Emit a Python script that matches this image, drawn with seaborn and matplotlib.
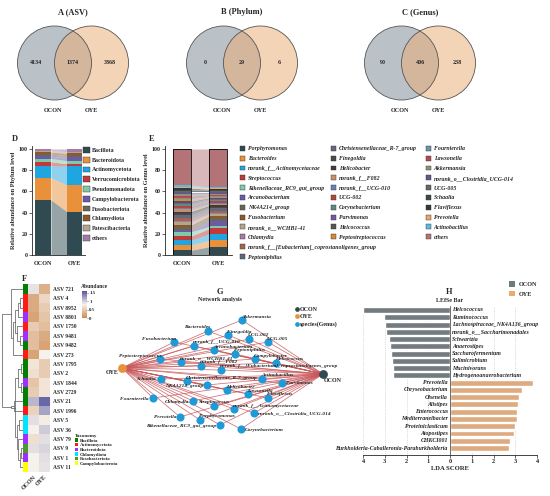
import numpy as np
import pandas as pd
import matplotlib
matplotlib.use("Agg")
import matplotlib.pyplot as plt
from matplotlib.patches import Circle, Patch
from matplotlib.lines import Line2D
from matplotlib.colors import LinearSegmentedColormap, ListedColormap
import seaborn as sns

# ---------------- data ----------------
groups = ["OCON", "OYE"]

# Venn (A, B, C)
venn_titles = ["A (ASV)", "B (Phylum)", "C (Genus)"]
venn_only_ocon = [4134, 0, 90]
venn_shared = [1374, 29, 406]
venn_only_oye = [3868, 6, 238]

# D: phylum composition (%)
phyla = ["Bacillota", "Bacteroidota", "Actinomycetota", "Verrucomicrobiota",
         "Pseudomonadota", "Campylobacterota", "Fusobacteriota", "Chlamydiota",
         "Patescibacteria", "others"]
phylum_ocon = [52, 21, 11, 4, 3, 2, 2, 2, 1.5, 1.5]
phylum_oye = [41, 25, 18, 2, 3, 3, 2, 2, 1.5, 2.5]
phylum_colors = ["#2F4A50", "#E8903A", "#1FA6E0", "#C0393B", "#7FC9A4",
                 "#6A5AA8", "#6B6654", "#8B5A2B", "#B4A48E", "#A57BA8"]

# E: genus composition (%)
genera = ["Porphyromonas", "Bacteroides", "norank_f__Actinomycetaceae", "Streptococcus",
          "Rikenellaceae_RC9_gut_group", "Arcanobacterium", "NK4A214_group", "Fusobacterium",
          "norank_o__WCHB1-41", "Chlamydia", "norank_f__[Eubacterium]_coprostanoligenes_group",
          "Peptoniphilus",
          "Christensenellaceae_R-7_group", "Finegoldia", "Helicobacter", "norank_f__F082",
          "norank_f__UCG-010", "UCG-002", "Corynebacterium", "Parvimonas", "Helcococcus",
          "Peptostreptococcus",
          "Fournierella", "Lawsonella", "Akkermansia", "norank_o__Clostridia_UCG-014",
          "UCG-005", "Schaalia", "Flaviflexus", "Prevotella", "Actinobacillus", "others"]
genus_ocon = [4.5, 5, 4.5, 4, 4, 1.5, 3, 2, 2.5, 1.5, 2, 1.5,
              2, 1.5, 1.5, 2, 1.5, 1.5, 2, 1.5, 1.5, 1.5,
              1.5, 1.5, 2, 1.5, 1, 1.5, 1.5, 1.5, 1.5, 34]
genus_oye = [8, 6, 6, 5, 2, 5, 3, 2, 1.5, 1, 2, 1.5,
             1.5, 1, 1.5, 1, 1.5, 1, 1.5, 1, 1, 1,
             1, 1, 1, 1, 1, 1, 1, 1, 1, 36]
genus_colors = ["#2F4A50", "#E8903A", "#1FA6E0", "#C0393B", "#7FC9A4", "#6A5AA8",
                "#6B6654", "#8B5A2B", "#B4A48E", "#A57BA8", "#A0684A", "#5B6B78",
                "#6D6483", "#4A4A4A", "#3D3D3D", "#C89064", "#6D7FB8", "#B5453E",
                "#5E8A85", "#6E5C9E", "#555555", "#D4883E",
                "#6F93AC", "#B24B52", "#8C9478", "#5F5A8A", "#6B6468", "#3C4A4A",
                "#2F3A3A", "#E6A66B", "#5DB8E0", "#B37377"]
legend_cols = [12, 10, 10]

# F: heatmap of ASVs
asv_ids = ["ASV 721", "ASV 4", "ASV 8952", "ASV 8801", "ASV 1750", "ASV 9481", "ASV 9482",
           "ASV 273", "ASV 1795", "ASV 2", "ASV 1844", "ASV 2729", "ASV 21", "ASV 1996",
           "ASV 5", "ASV 36", "ASV 79", "ASV 9", "ASV 1", "ASV 11"]
abund_ocon = [0.88, 0.25, 0.25, 0.2, 0.5, 0.4, 0.4, 0.2, 0.7, 0.65,
              0.45, 0.5, 1.1, 0.55, 0.9, 0.8, 0.65, 0.9, 0.8, 0.8]
abund_oye = [0.3, 0.6, 0.5, 0.45, 0.4, 0.25, 0.2, 0.8, 0.5, 0.5,
             0.7, 0.7, 1.5, 1.2, 0.75, 1.0, 0.9, 0.95, 0.9, 0.88]
asv_phylum = ["Bacillota", "Actinomycetota", "Actinomycetota", "Bacteroidota", "Actinomycetota",
              "Bacteroidota", "Bacillota", "Actinomycetota", "Bacillota", "Bacillota",
              "Bacteroidota", "Bacillota", "Bacillota", "Actinomycetota", "Chlamydiota",
              "Chlamydiota", "Bacteroidota", "Fusobacteriota", "Bacteroidota", "Campylobacterota"]
taxa = ["Bacillota", "Actinomycetota", "Bacteroidota", "Chlamydiota", "Fusobacteriota",
        "Campylobacterota"]
taxa_colors = ["#007F00", "#FF1A1A", "#9B30FF", "#00E5FF", "#4C9A2A", "#FFFF00"]
# row clustering: (left, right, height), new cluster ids start at len(asv_ids)
merges = [(1, 2, 0.15), (20, 3, 0.25), (5, 6, 0.15), (4, 22, 0.3), (21, 23, 0.4),
          (24, 7, 0.5), (0, 25, 0.6), (8, 9, 0.1), (10, 11, 0.12), (27, 28, 0.25),
          (14, 15, 0.2), (17, 18, 0.1), (31, 19, 0.15), (16, 32, 0.22), (30, 33, 0.3),
          (29, 34, 0.4), (12, 13, 0.45), (35, 36, 0.6), (26, 37, 1.0)]

# G: network (genus nodes, each linked to OYE and OCON)
net_nodes = ["Akkermansia", "Bacteroides", "Finegoldia", "UCG-002", "UCG-005", "Fusobacterium",
             "norank_f__UCG-010", "Arcanobacterium", "Peptoniphilus", "Campylobacter",
             "Helcococcus", "Peptostreptococcus", "norank_o__WCHB1-41", "norank_f__F082",
             "norank_f__[Eubacterium]_coprostanoligenes_group", "Schaalia",
             "Christensenellaceae_R-7_group", "Actinobacillus", "NK4A214_group", "Helicobacter",
             "Lawsonella", "Parvimonas", "Fournierella", "Chlamydia", "Streptococcus",
             "Flaviflexus", "norank_f__Actinomycetaceae", "norank_o__Clostridia_UCG-014",
             "Prevotella", "Porphyromonas", "Rikenellaceae_RC9_gut_group", "Corynebacterium"]
# layout of the network drawing
node_x = [242, 208, 228, 249, 268, 174, 194, 214, 235, 255, 276, 160, 181, 201, 221, 161,
          187, 262, 207, 227, 248, 282, 153, 193, 214, 268, 234, 254, 180, 200, 220, 241]
node_y = [320, 331, 335, 339, 342, 342, 346, 350, 354, 359, 363, 359, 362, 366, 370, 379,
          381, 379, 385, 390, 394, 383, 398, 401, 406, 398, 409, 413, 417, 420, 425, 429]
label_side = ["r", "l", "r", "r", "r", "l", "r", "r", "r", "r", "r", "l", "r", "r", "r", "L",
              "r", "r", "L", "r", "r", "R", "L", "L", "c", "r", "r", "R", "L", "r", "L", "R"]
hub_xy = {"OYE": (122, 368), "OCON": (323, 374)}

# H: LEfSe
lefse_genus = ["Helcococcus", "Ruminococcus", "Lachnospiraceae_NK4A136_group",
               "norank_o__Saccharimonadales", "Schwartzia", "Anaerostipes", "Saccharofermentum",
               "Salimicrobium", "Mucinivorans", "Hydrogenoanaerobacterium", "Prevotella",
               "Chryseobacterium", "Olsenella", "Alistipes", "Enterococcus", "Mediterraneibacter",
               "Proteiniclasticum", "Atopostipes", "CHKCI001",
               "Burkholderia-Caballeronia-Paraburkholderia"]
lda_score = [4.0, 3.03, 2.98, 2.96, 2.8, 2.75, 2.72, 2.68, 2.64, 2.6,
             3.82, 3.31, 3.16, 3.13, 3.1, 3.07, 2.99, 2.96, 2.76, 2.73]
lefse_group = ["OCON"] * 10 + ["OYE"] * 10

# ---------------- style ----------------
sns.set_style("white")
plt.rcParams["font.family"] = ["Liberation Serif", "DejaVu Serif"]
plt.rcParams["font.weight"] = "bold"
plt.rcParams["axes.labelweight"] = "bold"
plt.rcParams["axes.linewidth"] = 0.6

W, H = 550, 496
fig = plt.figure(figsize=(W / 100, H / 100), dpi=100)


def px_axes(x0, y0, x1, y1):
    return fig.add_axes([x0 / W, 1 - y1 / H, (x1 - x0) / W, (y1 - y0) / H])


def fx(x):
    return x / W


def fy(y):
    return 1 - y / H


# ---------------- A, B, C: Venn ----------------
R = 37.0
for cx, title, a, ab, b in zip([73, 242, 420], venn_titles, venn_only_ocon, venn_shared, venn_only_oye):
    ax = px_axes(cx - 62, 2, cx + 62, 122)
    ax.set_xlim(-62 / R, 62 / R)
    ax.set_ylim(-(122 - 63) / R, (63 - 2) / R)
    ax.add_patch(Circle((-0.5, 0), 1, fc="#798791", alpha=0.5, ec="none"))
    ax.add_patch(Circle((0.5, 0), 1, fc="#EBAB71", alpha=0.5, ec="none"))
    for c in (-0.5, 0.5):
        ax.add_patch(Circle((c, 0), 1, fill=False, ec="#555555", lw=0.6))
    ax.text(0, (63 - 12) / R, title, ha="center", va="center", fontsize=6)
    for x, v in zip([-1.0, 0, 1.0], [a, ab, b]):
        ax.text(x, 0, str(v), ha="center", va="center", fontsize=4.3)
    for x, g in zip([-0.55, 0.5], groups):
        ax.text(x, (63 - 110) / R, g, ha="center", va="center", fontsize=4.5)
    ax.axis("off")


# ---------------- D & E: stacked composition ----------------
def stacked(ax, v0, v1, colors, outline):
    b0, b1 = 0.0, 0.0
    for a, b, c in zip(v0, v1, colors):
        ax.bar([0, 1], [a, b], bottom=[b0, b1], width=0.5, color=c, lw=0)
        ax.fill_between([0.25, 0.75], [b0, b1], [b0 + a, b1 + b], color=c, alpha=0.5, lw=0)
        b0 += a
        b1 += b
    if outline:
        ax.bar([0, 1], [b0, b1], width=0.5, fill=False, edgecolor="black", lw=0.6)


def comp_axes(ax, ylabel):
    ax.set_ylim(0, 102.8)
    ax.set_yticks(range(0, 101, 20))
    ax.set_xticks([0, 1])
    ax.set_xticklabels(groups, fontsize=4.5)
    ax.tick_params(axis="y", labelsize=4.3, length=2, width=0.5, pad=1, left=True)
    ax.tick_params(axis="x", length=0, pad=4)
    ax.set_ylabel(ylabel, fontsize=4.5, labelpad=2)
    sns.despine(ax=ax)


axd = px_axes(32, 146, 85, 255)
stacked(axd, phylum_ocon, phylum_oye, phylum_colors, False)
axd.set_xlim(-0.35, 1.33)
comp_axes(axd, "Relative abundance on Phylum level")
fig.text(fx(12), fy(139), "D", fontsize=6, ha="left", va="center")
fig.legend([Patch(fc=c, ec="#333333", lw=0.3) for c in phylum_colors], phyla,
           loc="upper left", bbox_to_anchor=(fx(83), fy(147)), frameon=False, fontsize=4.3,
           handlelength=1.1, handleheight=1.1, labelspacing=0.65, handletextpad=0.4,
           borderaxespad=0, borderpad=0)

axe = px_axes(165, 146, 232, 255)
stacked(axe, genus_ocon, genus_oye, genus_colors, True)
axe.set_xlim(-0.486, 1.375)
comp_axes(axe, "Relative abundance on Genus level")
fig.text(fx(149), fy(139), "E", fontsize=6, ha="left", va="center")
start = 0
for col_x, n in zip([240, 331, 426], legend_cols):
    idx = range(start, start + n)
    leg = fig.legend([Patch(fc=genus_colors[i], ec="#333333", lw=0.3) for i in idx],
                     [genera[i] for i in idx], loc="upper left",
                     bbox_to_anchor=(fx(col_x), fy(146)), frameon=False,
                     prop={"style": "italic", "weight": "bold", "size": 4.2},
                     handlelength=0.9, handleheight=0.9, labelspacing=0.75,
                     handletextpad=0.4, borderaxespad=0, borderpad=0)
    start += n

# ---------------- F: heatmap ----------------
top, bot = 284.3, 471.7
axf = px_axes(28, top, 50, bot)
caxf = px_axes(82, 291, 87, 318)
heat = pd.DataFrame({"OCON": abund_ocon, "OYE": abund_oye}, index=asv_ids)
cmap = LinearSegmentedColormap.from_list("ab", ["#CD8A4F", "#F7F2EC", "#55559E"])
sns.heatmap(heat, ax=axf, cmap=cmap, vmin=0, vmax=1.6, cbar_ax=caxf, linewidths=0,
            xticklabels=True, yticklabels=True)
axf.yaxis.tick_right()
axf.set_yticks(np.arange(len(asv_ids)) + 0.5)
axf.set_yticklabels(asv_ids, rotation=0, fontsize=4.0)
axf.set_xticks([0.5, 1.5])
axf.set_xticklabels(groups, rotation=45, ha="right", rotation_mode="anchor", fontsize=4.3)
axf.tick_params(length=0, pad=2)
caxf.set_yticks([0, 0.5, 1, 1.5])
caxf.set_yticklabels(["0", "0.5", "1", "1.5"])
caxf.tick_params(labelsize=3.5, length=1, width=0.4, pad=0.5)
fig.text(fx(81), fy(289), "Abundance", fontsize=4.0, ha="left", va="bottom")
fig.text(fx(22), fy(279), "F", fontsize=6, ha="left", va="center")

axt = px_axes(23, top, 28, bot)
codes = np.array([taxa.index(p) for p in asv_phylum]).reshape(-1, 1)
sns.heatmap(codes, ax=axt, cmap=ListedColormap(taxa_colors), vmin=-0.5, vmax=5.5,
            cbar=False, xticklabels=False, yticklabels=False)

axdg = px_axes(2, top, 23, bot)
n = len(asv_ids)
pos = {i: i + 0.5 for i in range(n)}
hgt = {i: 0.0 for i in range(n)}
for k, (a, b, h) in enumerate(merges):
    axdg.plot([hgt[a], h, h, hgt[b]], [pos[a], pos[a], pos[b], pos[b]],
              color="#555555", lw=0.5)
    pos[n + k] = (pos[a] + pos[b]) / 2
    hgt[n + k] = h
axdg.set_xlim(1.02, 0)
axdg.set_ylim(n, 0)
axdg.axis("off")

tax_leg = fig.legend([Patch(fc=c, lw=0) for c in taxa_colors], taxa, title="Taxonomy",
                     loc="upper left", bbox_to_anchor=(fx(75), fy(434)), frameon=False,
                     fontsize=3.5, title_fontsize=3.6, handlelength=0.7, handleheight=0.7,
                     labelspacing=0.05, handletextpad=0.3, borderaxespad=0, borderpad=0)
tax_leg._legend_box.align = "left"

# ---------------- G: network ----------------
axg = px_axes(95, 280, 345, 440)
axg.set_xlim(95, 345)
axg.set_ylim(440, 280)
axg.axis("off")
for x, y in zip(node_x, node_y):
    for hx, hy in hub_xy.values():
        axg.plot([hx, x], [hy, y], color="#C8575A", lw=0.55, alpha=0.85, zorder=1)
axg.scatter(node_x, node_y, s=34, c="#1E9BD7", lw=0, zorder=3)
axg.scatter(*hub_xy["OYE"], s=40, c="#E8903A", lw=0, zorder=3)
axg.scatter(*hub_xy["OCON"], s=40, c="#2F4A50", lw=0, zorder=3)
for name, x, y, side in zip(net_nodes, node_x, node_y, label_side):
    kw = dict(fontsize=3.9, style="italic", zorder=4)
    if side == "r":
        axg.text(x - 1, y - 1.5, name, ha="left", va="bottom", **kw)
    elif side == "l":
        axg.text(x + 2, y - 1.5, name, ha="right", va="bottom", **kw)
    elif side == "c":
        axg.text(x, y - 2.5, name, ha="center", va="bottom", **kw)
    elif side == "L":
        axg.text(x - 4, y + 0.5, name, ha="right", va="center", **kw)
    else:
        axg.text(x + 4, y + 0.5, name, ha="left", va="center", **kw)
axg.text(hub_xy["OYE"][0] - 3, hub_xy["OYE"][1] + 5, "OYE", ha="right", va="center", fontsize=4.3)
axg.text(hub_xy["OCON"][0] + 1, hub_xy["OCON"][1] + 6, "OCON", ha="left", va="center", fontsize=4.3)
axg.text(220, 292, "G", ha="center", va="center", fontsize=6)
axg.text(220, 300, "Network analysis", ha="center", va="center", fontsize=4.3)
fig.legend([Line2D([], [], ls="", marker="o", ms=3.4, mfc=c, mec="none")
            for c in ["#2F4A50", "#E8903A", "#1E9BD7"]],
           ["OCON", "OYE", "species(Genus)"], loc="upper left",
           bbox_to_anchor=(fx(295), fy(307)), frameon=False, fontsize=4.3,
           handlelength=0.6, handletextpad=0.2, labelspacing=0.35, borderaxespad=0, borderpad=0)

# ---------------- H: LEfSe ----------------
axh = px_axes(363, 306, 537, 455)
lefse = pd.DataFrame({"genus": lefse_genus, "group": lefse_group,
                      "score": [-s if g == "OCON" else s for s, g in zip(lda_score, lefse_group)]})
pal = {"OCON": "#6E7C82", "OYE": "#EDAA72"}
sns.barplot(data=lefse, x="score", y="genus", hue="group", palette=pal, dodge=False,
            width=0.82, ax=axh, legend=False)
axh.set_xlim(-4, 4)
axh.set_ylim(19.96, -0.55)
axh.set_xticks(range(-4, 5))
axh.set_xticklabels([str(abs(t)) for t in range(-4, 5)], fontsize=4.5)
axh.set_yticks([])
axh.set_ylabel("")
axh.set_xlabel("LDA SCORE", fontsize=4.8, labelpad=1)
axh.tick_params(axis="x", length=2, width=0.5, pad=1, bottom=True)
axh.grid(axis="x", ls=":", lw=0.5, color="#BBBBBB")
axh.set_axisbelow(True)
axh.axvline(0, color="#333333", lw=0.5)
for sp in ["left", "right", "top"]:
    axh.spines[sp].set_visible(False)
for i, (name, g) in enumerate(zip(lefse_genus, lefse_group)):
    if g == "OCON":
        axh.text(0.1, i, name, ha="left", va="center", fontsize=4.2, style="italic")
    else:
        axh.text(-0.1, i, name, ha="right", va="center", fontsize=4.2, style="italic")
fig.text(fx(449), fy(292), "H", ha="center", va="center", fontsize=6)
fig.text(fx(450), fy(300), "LEfSe Bar", ha="center", va="center", fontsize=4.3)
fig.legend([Patch(fc=pal[g], lw=0) for g in groups], groups, loc="upper left",
           bbox_to_anchor=(fx(509), fy(281)), frameon=False, fontsize=4.5,
           handlelength=1.0, handleheight=1.0, labelspacing=0.6, handletextpad=0.5,
           borderaxespad=0, borderpad=0)

fig.savefig("out.png", dpi=100)
